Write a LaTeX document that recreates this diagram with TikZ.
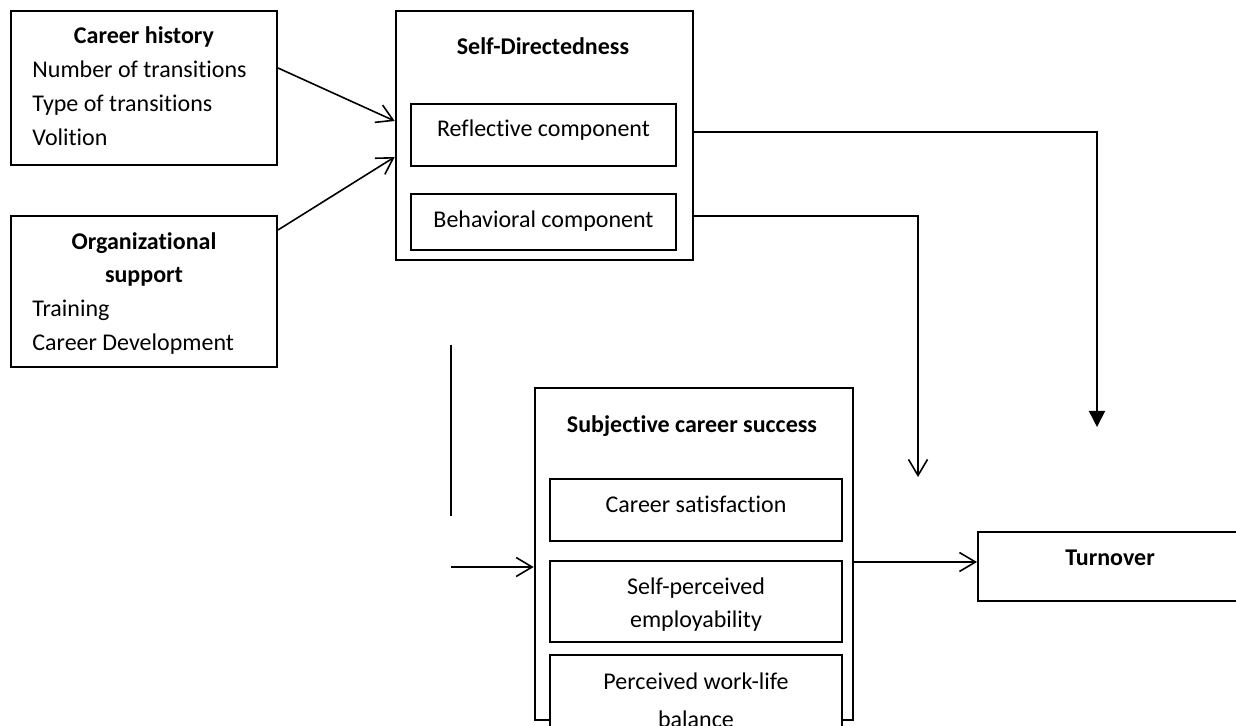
\documentclass[tikz,border=0pt]{standalone}
\usepackage{fontspec}
\setmainfont{Carlito}[Ligatures=NoCommon]
\usetikzlibrary{arrows.meta}
\begin{document}
\begin{tikzpicture}[x=0.5pt,y=-0.5pt,
  font=\fontsize{12}{14}\selectfont,
  box/.style={draw, line width=1pt, fill=white, inner sep=0pt},
  outerbox/.style={draw, line width=1.3pt, inner sep=0pt},
  txt/.style={anchor=base, inner sep=0pt},
  ltxt/.style={anchor=base west, inner sep=0pt},
  bold/.style={font=\fontsize{12}{14}\selectfont\bfseries},
  link/.style={line width=0.8pt},
  openarr/.style={link, -{Straight Barb[length=8pt,width=9.5pt,line width=0.8pt]}},
  fillarr/.style={link, -{Triangle[length=8pt,width=8pt]}}]
\useasboundingbox (0,0) rectangle (1236,726);
\clip (0,0) rectangle (1236,726);

% antecedents
\node[box, minimum width=133pt, minimum height=77pt] (ch) at (144,88) {};
\node[txt, bold] (chT) at (144,44) {Career history};
\node[ltxt] (ch1) at (32,78) {Number of transitions};
\node[ltxt] (ch2) at (32,112) {Type of transitions};
\node[ltxt] (ch3) at (32,146) {Volition};

\node[box, minimum width=133pt, minimum height=75.5pt] (os) at (144,291.5) {};
\node[txt, bold] (osT1) at (144,250) {Organizational};
\node[txt, bold] (osT2) at (144,283) {support};
\node[ltxt] (os1) at (32,317) {Training};
\node[ltxt] (os2) at (32,351) {Career Development};

% self-directedness
\node[outerbox, minimum width=148.5pt, minimum height=124.5pt] (sd) at (544.5,135.5) {};
\node[txt, bold] (sdT) at (543,55) {Self-Directedness};
\node[box, minimum width=132.5pt, minimum height=31pt] (refl) at (543.5,135) {};
\node[txt] (reflT) at (543.5,137) {Reflective component};
\node[box, minimum width=132.5pt, minimum height=28pt] (beh) at (543.5,222) {};
\node[txt] (behT) at (543.5,228) {Behavioral component};

% subjective career success
\node[outerbox, minimum width=159pt, minimum height=166pt] (scs) at (694,554) {};
\node[txt, bold] (scsT) at (692,433) {Subjective career success};
\node[box, minimum width=146pt, minimum height=31pt] (sat) at (696,510) {};
\node[txt] (satT) at (696,513) {Career satisfaction};
\node[box, minimum width=146pt, minimum height=40.5pt] (emp) at (696,601.5) {};
\node[txt] (empT1) at (696,594) {Self-perceived};
\node[txt] (empT2) at (696,627) {employability};
\node[box, minimum width=146pt, minimum height=42pt] (wlb) at (696,697) {};
\node[txt] (wlbT1) at (696,689) {Perceived work-life};
\node[txt] (wlbT2) at (696,727) {balance};

% outcome
\node[box, minimum width=132pt, minimum height=34.5pt] (tu) at (1110,566.5) {};
\node[txt, bold] (tuT) at (1110,566) {Turnover};

% connectors
\draw[openarr] ([yshift=10pt]ch.east) -- ([yshift=7.25pt]sd.west);
\draw[openarr] ([yshift=30.75pt]os.east) -- ([yshift=-10.75pt]sd.west);

\coordinate (t1) at (1097,427);
\coordinate (t2) at (918,477);
\draw[fillarr] ([yshift=1.75pt]sd.east) -| (t1);
\draw[openarr] ([yshift=-40.25pt]sd.east) -| (t2);

\coordinate (v1) at (451,345);
\coordinate (v2) at (451,516);
\draw[link] (v1) -- (v2);
\coordinate (h1) at (451,567);
\draw[openarr] (h1) -- (scs.west |- h1);

\coordinate (tin) at ([yshift=2.25pt]tu.west);
\draw[openarr] (scs.east |- tin) -- (tin);
\end{tikzpicture}
\end{document}
